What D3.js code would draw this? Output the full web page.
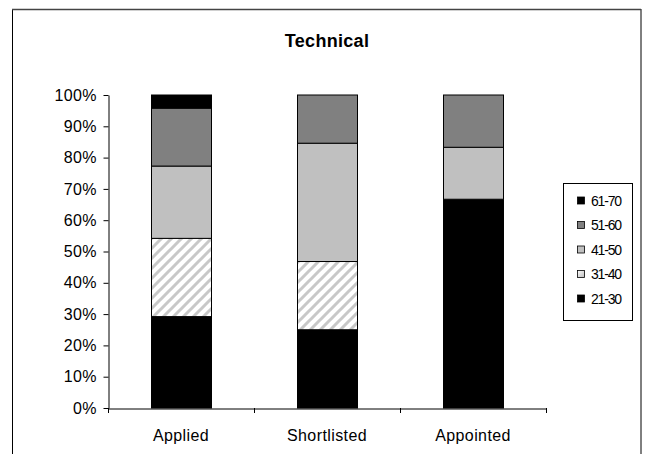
<!DOCTYPE html>
<html><head><meta charset="utf-8">
<script src="https://cdn.jsdelivr.net/npm/d3@7"></script>
<style>body{margin:0;background:#fff}svg{display:block;font-family:"Liberation Sans",Arial,sans-serif}</style>
</head><body><svg id="c" width="648" height="454"></svg>
<script>
const categories = ["Applied", "Shortlisted", "Appointed"];
const seriesNames = ["21-30", "31-40", "41-50", "51-60", "61-70"];
const v21_30 = [29.2, 25.0, 66.7];
const v31_40 = [25.0, 21.8, 0];
const v41_50 = [23.1, 37.8, 16.6];
const v51_60 = [18.5, 15.4, 16.7];
const v61_70 = [4.2, 0, 0];
const yTicks = [0, 10, 20, 30, 40, 50, 60, 70, 80, 90, 100];
const title = "Technical";

const seriesVals = [v21_30, v31_40, v41_50, v51_60, v61_70];
const fills = ["#000", "url(#hatch)", "#c0c0c0", "#808080", "#000"];

const svg = d3.select("#c");
const defs = svg.append("defs");
const pat = defs.append("pattern").attr("id", "hatch").attr("patternUnits", "userSpaceOnUse")
  .attr("width", 10).attr("height", 10);
pat.append("rect").attr("width", 10).attr("height", 10).attr("fill", "#fff");
pat.append("path").attr("d", "M-2,12 L12,-2 M-2,2 L2,-2 M8,12 L12,8")
  .attr("stroke", "#c8c8c8").attr("stroke-width", 3);
const lg = defs.append("linearGradient").attr("id", "lgw").attr("x1", 0).attr("y1", 0).attr("x2", 1).attr("y2", 1);
lg.append("stop").attr("offset", 0).attr("stop-color", "#fff");
lg.append("stop").attr("offset", 1).attr("stop-color", "#bbb");

// outer frame
svg.append("rect").attr("x", 12.5).attr("y", 9.5).attr("width", 628.5).attr("height", 460)
  .attr("fill", "#fff").attr("stroke", "#000").attr("stroke-width", 1);
svg.append("line").attr("x1", 12).attr("x2", 641).attr("y1", 9.5).attr("y2", 9.5).attr("stroke", "#444").attr("stroke-width", 1.5);

svg.append("text").attr("x", 327).attr("y", 47).attr("text-anchor", "middle")
  .attr("font-size", 18).attr("font-weight", "bold").attr("letter-spacing", 0.3).text(title);

const pLeft = 108, pRight = 546, pTop = 95, pBottom = 408;
const x = d3.scaleBand().domain(categories).range([pLeft, pRight]).paddingInner(0.59).paddingOuter(0.295);
const y = d3.scaleLinear().domain([0, 100]).range([pBottom, pTop]);

const data = categories.map((c, i) => {
  const o = { cat: c };
  seriesNames.forEach((s, k) => o[s] = seriesVals[k][i]);
  return o;
});
const stack = d3.stack().keys(seriesNames)(data);

const g = svg.append("g");
stack.forEach((layer, k) => {
  g.selectAll(null).data(layer.filter(d => d[1] - d[0] > 0)).enter().append("rect")
    .attr("x", d => Math.round(x(d.data.cat)) + 0.5)
    .attr("width", Math.round(x.bandwidth()))
    .attr("y", d => y(d[1]))
    .attr("height", d => y(d[0]) - y(d[1]))
    .attr("fill", fills[k]).attr("stroke", "#000").attr("stroke-width", 1);
});

// y axis
const ya = svg.append("g").attr("transform", `translate(${pLeft + 0.5},0)`)
  .call(d3.axisLeft(y).tickValues(yTicks).tickFormat(d => d + "%").tickSize(5).tickSizeOuter(0));
ya.select(".domain").attr("stroke", "#000");
ya.selectAll("line").attr("stroke", "#000");
ya.selectAll("text").attr("font-size", 16).attr("letter-spacing", 0.4)
  .attr("font-family", "Liberation Sans, Arial, sans-serif").attr("fill", "#000").attr("x", -11.5);

// x axis
const xa = svg.append("g").attr("transform", `translate(0,${pBottom + 0.5})`)
  .call(d3.axisBottom(x).tickSize(0).tickSizeOuter(0));
xa.select(".domain").attr("stroke", "#000");
xa.selectAll("text").attr("font-size", 16).attr("letter-spacing", 0.4)
  .attr("font-family", "Liberation Sans, Arial, sans-serif").attr("fill", "#000").attr("y", 32).attr("dy", 0);
const bounds = d3.range(categories.length + 1).map(i => pLeft + i * (pRight - pLeft) / categories.length);
svg.append("g").selectAll("line").data(bounds).enter().append("line")
  .attr("x1", d => Math.round(d) + 0.5).attr("x2", d => Math.round(d) + 0.5)
  .attr("y1", pBottom).attr("y2", pBottom + 5).attr("stroke", "#000");

// legend
const leg = svg.append("g");
leg.append("rect").attr("x", 563.5).attr("y", 183.5).attr("width", 69).attr("height", 137)
  .attr("fill", "#fff").attr("stroke", "#000");
const legFills = ["#000", "url(#lgw)", "#c0c0c0", "#808080", "#000"];
const order = [4, 3, 2, 1, 0];
order.forEach((k, i) => {
  const cy = 200.5 + i * 24.5;
  leg.append("rect").attr("x", 577.5).attr("y", cy - 3.5).attr("width", 7).attr("height", 7)
    .attr("fill", legFills[k]).attr("stroke", "#000").attr("stroke-width", 0.8);
  leg.append("text").attr("x", 591).attr("y", cy + 5).attr("font-size", 14)
    .attr("letter-spacing", -1.2).text(seriesNames[k]);
});
</script></body></html>
